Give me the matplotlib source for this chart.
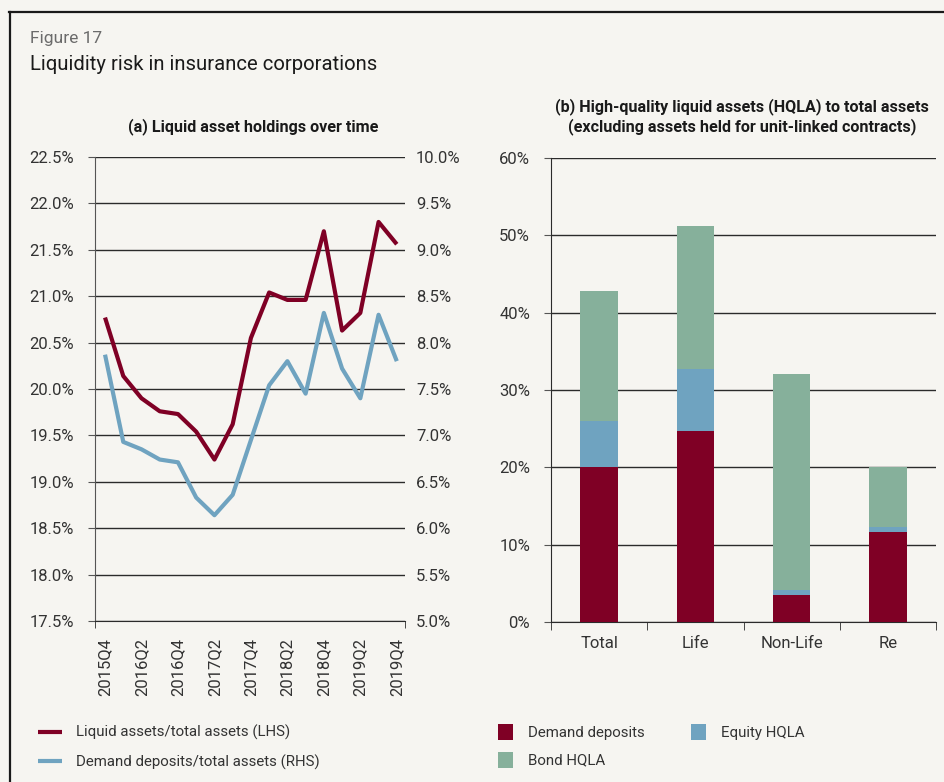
import matplotlib
matplotlib.use('Agg')
import matplotlib.pyplot as plt
from matplotlib.lines import Line2D
from matplotlib.ticker import FuncFormatter, FixedLocator

plt.rcParams['font.family'] = ['Roboto', 'DejaVu Sans']

# ---- data ----
quarters = ['2015Q4', '2016Q1', '2016Q2', '2016Q3', '2016Q4', '2017Q1', '2017Q2', '2017Q3',
            '2017Q4', '2018Q1', '2018Q2', '2018Q3', '2018Q4', '2019Q1', '2019Q2', '2019Q3', '2019Q4']
liquid_assets = [20.77, 20.14, 19.90, 19.76, 19.73, 19.54, 19.24, 19.62, 20.55,
                 21.04, 20.96, 20.96, 21.70, 20.63, 20.82, 21.80, 21.56]
demand_ratio = [7.87, 6.93, 6.85, 6.74, 6.71, 6.33, 6.14, 6.36, 6.95,
                7.54, 7.80, 7.45, 8.32, 7.72, 7.40, 8.30, 7.80]

segments = ['Total', 'Life', 'Non-Life', 'Re']
demand_deposits = [20.0, 24.7, 3.5, 11.6]
equity_hqla = [6.0, 8.0, 0.7, 0.65]
bond_hqla = [16.75, 18.45, 27.85, 7.75]

BG = '#f6f5f1'
RED = '#7f0025'
BLUE = '#6fa3c0'
GREEN = '#86b09b'
TXT = '#333333'
GRID = '#2b2b2b'

fig = plt.figure(figsize=(9.44, 7.82), dpi=100, facecolor=BG)

# frame lines (top and left)
fig.add_artist(Line2D([9/944, 1.0], [1 - 12/782, 1 - 12/782], color='#1a1a1a', lw=1.6))
fig.add_artist(Line2D([10/944, 10/944], [1 - 12/782, 0.0], color='#1a1a1a', lw=1.6))

fig.text(30/944, 1 - 38/782, 'Figure 17', fontsize=12.5, color='#6b6b6b', va='center')
fig.text(30/944, 1 - 64/782, 'Liquidity risk in insurance corporations', fontsize=14.6,
         color='#1a1a1a', va='center')

# ---- (a) lines ----
ax = fig.add_axes([95/944, 1 - 621/782, 310/944, 464/782], facecolor=BG)
x = list(range(len(quarters)))
l1, = ax.plot(x, liquid_assets, color=RED, lw=3, solid_capstyle='butt',
              label='Liquid assets/total assets (LHS)', zorder=3)
ax.set_ylim(17.5, 22.5)
ax.set_yticks([17.5 + 0.5 * i for i in range(11)])
ax.yaxis.set_major_formatter(FuncFormatter(lambda v, p: '%.1f%%' % v))
ax.set_xlim(-0.55, 16.45)
ax.set_xticks(x[::2])
ax.set_xticklabels(quarters[::2], rotation=90)
ax.xaxis.set_minor_locator(FixedLocator([-0.55, 16.45]))
ax.tick_params(axis='x', which='major', length=0, pad=12, labelsize=12, labelcolor=TXT)
ax.tick_params(axis='x', which='minor', length=5, color=GRID, direction='out')
ax.tick_params(axis='y', length=5, color='#555555', pad=10, labelsize=12, labelcolor=TXT)
ax.grid(axis='y', color=GRID, lw=1.0)
ax.set_axisbelow(True)
for s in ['top', 'right']:
    ax.spines[s].set_visible(False)
ax.spines['left'].set_color('#555555')
ax.spines['bottom'].set_color(GRID)

ax2 = ax.twinx()
l2, = ax2.plot(x, demand_ratio, color=BLUE, lw=3, solid_capstyle='butt',
               label='Demand deposits/total assets (RHS)', zorder=3)
ax2.set_ylim(5.0, 10.0)
ax2.set_yticks([5.0 + 0.5 * i for i in range(11)])
ax2.yaxis.set_major_formatter(FuncFormatter(lambda v, p: '%.1f%%' % v))
ax2.tick_params(axis='y', length=0, pad=8, labelsize=12, labelcolor=TXT)
for s in ['top', 'right', 'left', 'bottom']:
    ax2.spines[s].set_visible(False)

fig.text(253/944, 1 - 127/782, '(a) Liquid asset holdings over time', fontsize=11.6,
         fontweight='bold', color='#1a1a1a', ha='center', va='center')

# ---- (b) stacked bars ----
bx = fig.add_axes([551/944, 1 - 622/782, 385/944, 464/782], facecolor=BG)
pos = list(range(len(segments)))
w = 0.39
b1 = bx.bar(pos, demand_deposits, w, color=RED, label='Demand deposits', zorder=3)
b2 = bx.bar(pos, equity_hqla, w, bottom=demand_deposits, color=BLUE,
            label='Equity HQLA', zorder=3)
base = [d + e for d, e in zip(demand_deposits, equity_hqla)]
b3 = bx.bar(pos, bond_hqla, w, bottom=base, color=GREEN, label='Bond HQLA', zorder=3)
bx.set_ylim(0, 60)
bx.set_yticks(range(0, 61, 10))
bx.yaxis.set_major_formatter(FuncFormatter(lambda v, p: '%d%%' % v))
bx.set_xlim(-0.5, 3.5)
bx.set_xticks(pos)
bx.set_xticklabels(segments)
bx.xaxis.set_minor_locator(FixedLocator([-0.5, 0.5, 1.5, 2.5, 3.5]))
bx.tick_params(axis='x', which='major', length=0, pad=10, labelsize=12, labelcolor=TXT)
bx.tick_params(axis='x', which='minor', length=6, color=GRID, direction='out')
bx.tick_params(axis='y', length=5, color='#555555', pad=10, labelsize=12, labelcolor=TXT)
bx.grid(axis='y', color=GRID, lw=1.0, zorder=0)
bx.set_axisbelow(True)
for s in ['top', 'right']:
    bx.spines[s].set_visible(False)
bx.spines['left'].set_color(GRID)
bx.spines['bottom'].set_color(GRID)

fig.text(742/944, 1 - 107/782, '(b) High-quality liquid assets (HQLA) to total assets',
         fontsize=11.6, fontweight='bold', color='#1a1a1a', ha='center', va='center')
fig.text(742/944, 1 - 127/782, '(excluding assets held for unit-linked contracts)',
         fontsize=11.6, fontweight='bold', color='#1a1a1a', ha='center', va='center')

# ---- legends ----
fig.legend(handles=[l1, l2], loc='upper left', bbox_to_anchor=(38/944, 1 - 725/782),
           frameon=False, fontsize=10.8, handlelength=1.6, handletextpad=0.9,
           labelspacing=0.95, borderpad=0, borderaxespad=0, labelcolor=TXT)
fig.legend(handles=[b1, b3, b2], loc='upper left', bbox_to_anchor=(498/944, 1 - 724/782),
           ncol=2, frameon=False, fontsize=10.8, handlelength=1.0, handleheight=1.3,
           handletextpad=1.0, labelspacing=0.75, columnspacing=3.1, borderpad=0,
           borderaxespad=0, labelcolor=TXT)

fig.savefig('out.png', dpi=100, facecolor=BG)
